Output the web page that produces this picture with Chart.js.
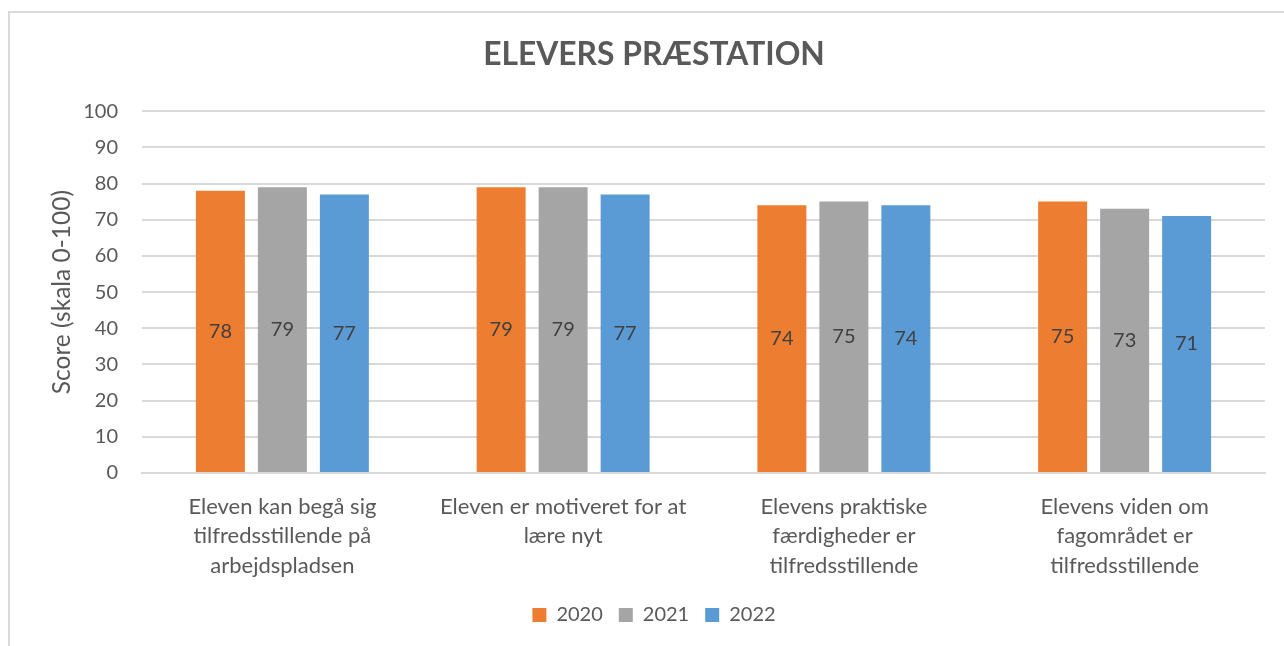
<!DOCTYPE html>
<html lang="da">
<head>
    <meta charset="UTF-8">
    <title>Elevers præstation</title>
    <script src="https://cdn.jsdelivr.net/npm/chart.js"></script>
    <style>
        html, body { margin: 0; padding: 0; background: #fff; overflow: hidden; }
        #frame {
            position: absolute; left: 8px; top: 11px;
            width: 1400px; height: 700px;
            border: 2px solid #d9d9d9; background: #fff;
        }
        #wrap { position: absolute; left: 0; top: 0; width: 1284px; height: 646px; }
    </style>
</head>
<body>
<div id="frame"></div>
<div id="wrap"><canvas id="chart"></canvas></div>

<script>
    // kategorier (x-akse)
    const categories = [
        ['Eleven kan begå sig', 'tilfredsstillende på', 'arbejdspladsen'],
        ['Eleven er motiveret for at', 'lære nyt'],
        ['Elevens praktiske', 'færdigheder er', 'tilfredsstillende'],
        ['Elevens viden om', 'fagområdet er', 'tilfredsstillende']
    ];
    const years = ['2020', '2021', '2022'];
    const values2020 = [78, 79, 74, 75];
    const values2021 = [79, 79, 75, 73];
    const values2022 = [77, 77, 74, 71];
    const colors = ['#ED7D31', '#A5A5A5', '#5B9BD5'];

    const FONT = 'Lato, "Open Sans", sans-serif';
    const GREY = '#595959';

    // tal midt i søjlerne
    const barLabels = {
        id: 'barLabels',
        afterDatasetsDraw(chart) {
            const ctx = chart.ctx;
            ctx.save();
            ctx.font = '20px ' + FONT;
            ctx.fillStyle = '#404040';
            ctx.textAlign = 'center';
            ctx.textBaseline = 'middle';
            chart.data.datasets.forEach((ds, i) => {
                chart.getDatasetMeta(i).data.forEach((bar, j) => {
                    ctx.fillText(ds.data[j], bar.x, (bar.y + bar.base) / 2);
                });
            });
            ctx.restore();
        }
    };

    new Chart(document.getElementById('chart'), {
        type: 'bar',
        data: {
            labels: categories,
            datasets: [
                { label: years[0], data: values2020, backgroundColor: colors[0] },
                { label: years[1], data: values2021, backgroundColor: colors[1] },
                { label: years[2], data: values2022, backgroundColor: colors[2] }
            ]
        },
        options: {
            responsive: true,
            maintainAspectRatio: false,
            animation: false,
            categoryPercentage: 0.6625,
            barPercentage: 0.79,
            // venstre padding så titel og forklaring centreres som i Excel-rammen
            layout: { padding: { top: 0, left: 43, right: 19, bottom: 11 } },
            plugins: {
                title: {
                    display: true,
                    text: 'ELEVERS PRÆSTATION',
                    color: GREY,
                    font: { family: FONT, size: 31.8, weight: 'bold', lineHeight: 1.2 },
                    padding: { top: 36, bottom: 37 }
                },
                legend: {
                    position: 'bottom',
                    labels: {
                        color: GREY,
                        font: { family: FONT, size: 20 },
                        boxWidth: 14,
                        boxHeight: 14,
                        padding: 16
                    }
                },
                tooltip: { enabled: false }
            },
            scales: {
                x: {
                    grid: { display: false, drawTicks: false },
                    border: { color: '#d9d9d9', width: 2 },
                    ticks: {
                        color: GREY,
                        font: { family: FONT, size: 22, lineHeight: 1.34 },
                        maxRotation: 0,
                        autoSkip: false,
                        padding: 19
                    },
                    afterFit(scale) { scale.height = 116; }
                },
                y: {
                    min: 0,
                    max: 100,
                    grid: { color: '#d9d9d9', lineWidth: 2, drawTicks: false },
                    border: { display: false },
                    ticks: {
                        stepSize: 10,
                        color: GREY,
                        font: { family: FONT, size: 20 },
                        padding: 24
                    },
                    title: {
                        display: true,
                        text: 'Score (skala 0-100)',
                        color: GREY,
                        font: { family: FONT, size: 24.5, lineHeight: 1.2 },
                        padding: { top: 4, bottom: 0 }
                    },
                    afterFit(scale) { scale.width = 99; }
                }
            }
        },
        plugins: [barLabels]
    });
</script>
</body>
</html>
